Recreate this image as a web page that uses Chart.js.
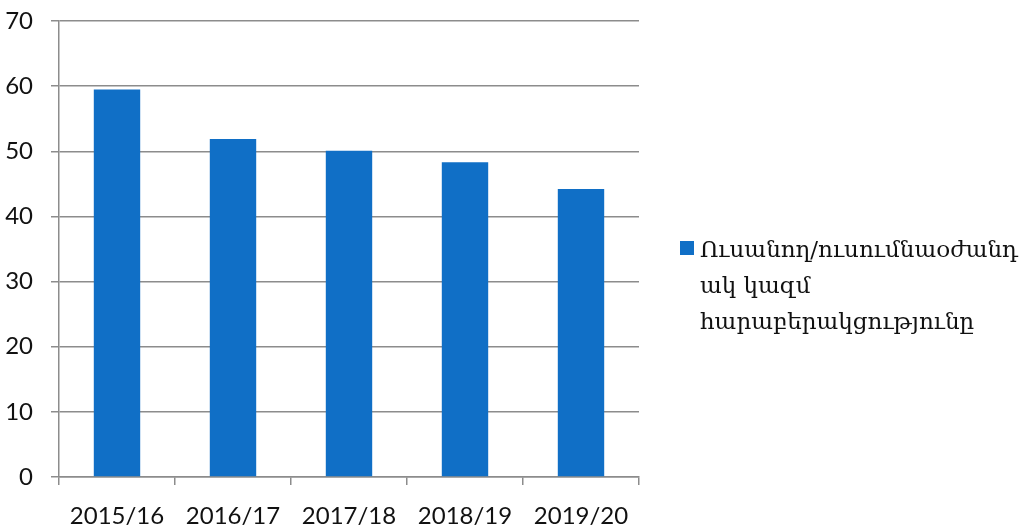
<!DOCTYPE html>
<html>
<head>
<meta charset="utf-8">
<script src="https://cdn.jsdelivr.net/npm/chart.js@4"></script>
<style>
	html, body { margin: 0; padding: 0; background: #fff; }
	#wrap { width: 1025px; height: 531px; }
</style>
</head>
<body>
<div id="wrap"><canvas id="myChart" width="1025" height="531"></canvas></div>
<script>
	var years = ['2015/16', '2016/17', '2017/18', '2018/19', '2019/20'];
	var ratios = [59.5, 51.9, 50.1, 48.3, 44.2];
	var yTicks = [0, 10, 20, 30, 40, 50, 60, 70];
	var legendLines = ['Ուսանող/ուսումնաօժանդ', 'ակ կազմ', 'հարաբերակցությունը'];

	var barColor = '#106fc6';
	var gridColor = '#8c8c8c';
	var tickFont = { family: 'Lato', size: 24 };

	// legend on the right, wrapped over three lines
	var sideLegend = {
		id: 'sideLegend',
		afterDraw: function(chart) {
			var ctx = chart.ctx;
			ctx.save();
			ctx.fillStyle = barColor;
			ctx.fillRect(680, 241, 14, 14);
			ctx.fillStyle = '#111';
			ctx.font = '23px "DejaVu Serif"';
			ctx.textBaseline = 'alphabetic';
			legendLines.forEach(function(line, i) {
				ctx.fillText(line, 700, 257 + i * 36);
			});
			ctx.restore();
		}
	};

	var ctx = document.getElementById('myChart').getContext('2d');
	var myChart = new Chart(ctx, {
		type: 'bar',
		data: {
			labels: years,
			datasets: [
				{
					label: legendLines.join(''),
					data: ratios,
					backgroundColor: barColor,
					borderWidth: 0,
					categoryPercentage: 1,
					barPercentage: 0.4,
				}
			]
		},
		options: {
			responsive: false,
			animation: false,
			layout: { padding: { top: 21, right: 386, left: 0, bottom: 0 } },
			plugins: {
				legend: { display: false },
				tooltip: { enabled: false }
			},
			scales: {
				x: {
					grid: {
						drawOnChartArea: false,
						drawTicks: true,
						tickLength: 8,
						color: gridColor,
						lineWidth: 1.5
					},
					border: { display: true, color: gridColor, width: 1.5 },
					ticks: { color: '#111', font: tickFont, padding: 17, maxRotation: 0 },
					afterFit: function(scale) {
						scale.height = 54;
						scale.paddingLeft = 0;
						scale.paddingRight = 0;
					}
				},
				y: {
					min: 0,
					max: 70,
					afterBuildTicks: function(scale) {
						scale.ticks = yTicks.map(function(v) { return { value: v }; });
					},
					grid: {
						color: gridColor,
						lineWidth: 1.5,
						tickLength: 8
					},
					border: { display: true, color: gridColor, width: 1.5 },
					ticks: { color: '#111', font: tickFont, padding: 18 },
					afterFit: function(scale) {
						scale.width = 59;
						scale.paddingTop = 0;
						scale.paddingBottom = 0;
					}
				}
			}
		},
		plugins: [sideLegend]
	});
</script>
</body>
</html>
